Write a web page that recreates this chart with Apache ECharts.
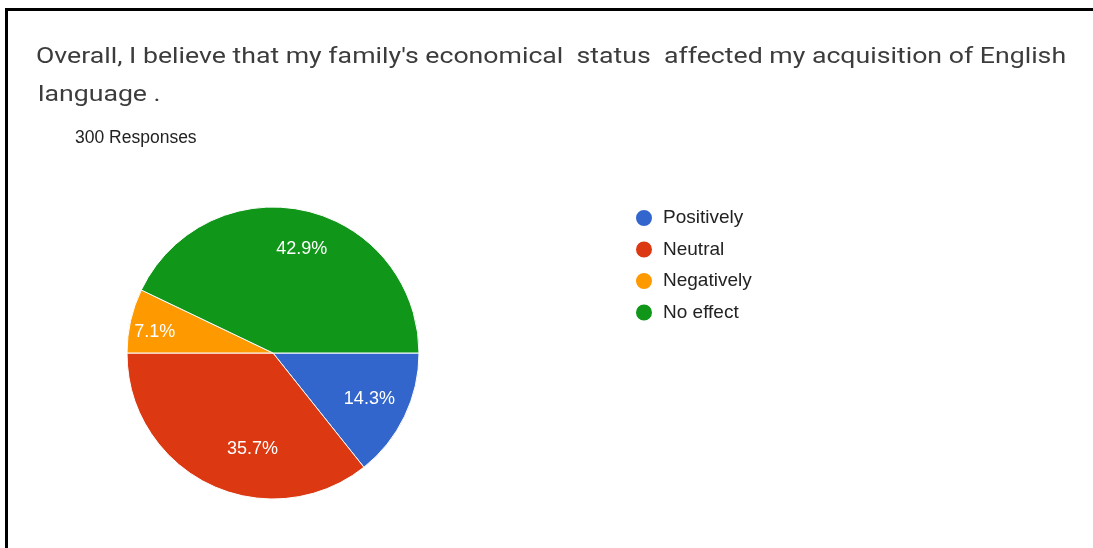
<!DOCTYPE html>
<html>
<head>
<meta charset="utf-8">
<script src="https://cdn.jsdelivr.net/npm/echarts@6/dist/echarts.min.js"></script>
<style>
  html, body { margin: 0; padding: 0; background: #fff; }
  #chart { width: 1093px; height: 548px; }
</style>
</head>
<body>
<div id="chart"></div>
<script>
// Survey answers and their shares (percent of 300 responses)
const categories = ['Positively', 'Neutral', 'Negatively', 'No effect'];
const shares = [14.3, 35.7, 7.1, 42.9];
const colors = ['#3366cc', '#dc3912', '#ff9900', '#109618'];
const questionLines = [
  "Overall, I believe that my family's economical  status  affected my acquisition of English",
  'language .'
];
const responsesText = '300 Responses';

const pieData = categories.map((name, i) => ({ name: name, value: shares[i] }));

// question heading is drawn slightly widened, as in the original form export
const headingStyle = {
  font: '22px Roboto',
  fill: '#3c3c3c',
  verticalAlign: 'middle'
};

// small nudges so the percentage labels sit like the form's own chart
function nudgeLabel(params) {
  const shift = { 1: { dx: 26, dy: 0 }, 2: { dx: -14, dy: 3 }, 3: { dx: 5, dy: 0 } };
  return shift[params.dataIndex] || {};
}

const chart = echarts.init(document.getElementById('chart'));
chart.setOption({
  backgroundColor: '#ffffff',
  animation: false,
  color: colors,
  legend: {
    orient: 'vertical',
    left: 629,
    top: 203,
    icon: 'circle',
    itemWidth: 18,
    itemHeight: 18,
    itemGap: 11.5,
    data: categories,
    textStyle: {
      fontFamily: 'Arial, Liberation Sans',
      fontSize: 19,
      color: '#222222',
      padding: [0, 0, 0, 5]
    }
  },
  graphic: [
    { type: 'rect', shape: { x: 5, y: 8, width: 1088, height: 3 }, style: { fill: '#000' }, silent: true },
    { type: 'rect', shape: { x: 5, y: 8, width: 3, height: 540 }, style: { fill: '#000' }, silent: true },
    {
      type: 'text', x: 36, y: 57, scaleX: 1.212, silent: true,
      style: Object.assign({ text: questionLines[0] }, headingStyle)
    },
    {
      type: 'text', x: 38, y: 95, scaleX: 1.212, silent: true,
      style: Object.assign({ text: questionLines[1] }, headingStyle)
    },
    {
      type: 'text', x: 75, y: 138, silent: true,
      style: {
        text: responsesText,
        font: '17.5px Arial, Liberation Sans',
        fill: '#222222',
        verticalAlign: 'middle'
      }
    }
  ],
  series: [
    {
      type: 'pie',
      center: [273, 353],
      radius: [0, 146],
      startAngle: 0,
      clockwise: true,
      data: pieData,
      itemStyle: { borderColor: '#ffffff', borderWidth: 1 },
      label: { show: false },
      labelLine: { show: false },
      emphasis: { disabled: true }
    },
    {
      // transparent ring that only carries the percentage labels
      type: 'pie',
      center: [273, 353],
      radius: [62, 146],
      startAngle: 0,
      clockwise: true,
      silent: true,
      data: pieData,
      itemStyle: { color: 'rgba(0,0,0,0)', borderWidth: 0 },
      label: {
        show: true,
        position: 'inside',
        formatter: p => p.value.toFixed(1) + '%',
        fontFamily: 'Arial, Liberation Sans',
        fontSize: 18,
        color: '#ffffff'
      },
      labelLayout: nudgeLabel,
      labelLine: { show: false },
      emphasis: { disabled: true }
    }
  ]
});
</script>
</body>
</html>
